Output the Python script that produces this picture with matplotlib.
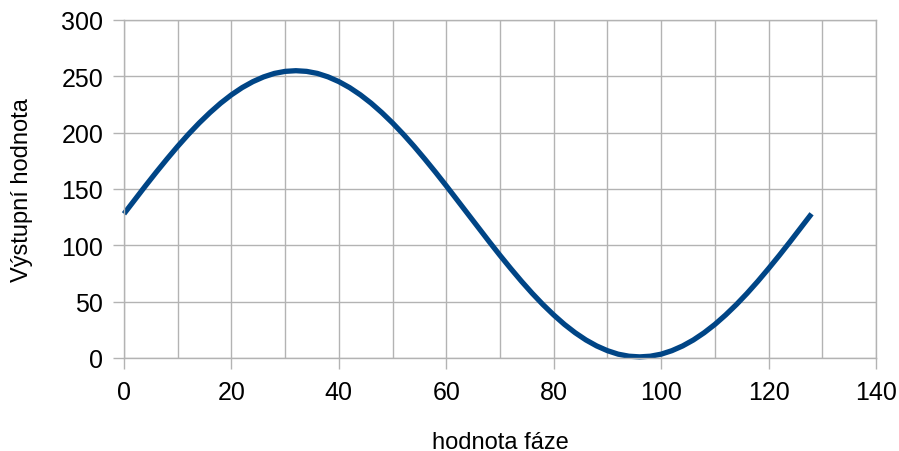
import matplotlib
matplotlib.use("Agg")
import matplotlib.pyplot as plt

# values, every 2 phase steps
phase = list(range(0, 129, 2))
output = [128.0, 140.4, 152.8, 164.9, 176.6, 187.9, 198.6, 208.6, 217.8, 226.2, 233.6, 240.0,
          245.3, 249.5, 252.6, 254.4, 255.0, 254.4, 252.6, 249.5, 245.3, 240.0, 233.6, 226.2,
          217.8, 208.6, 198.6, 187.9, 176.6, 164.9, 152.8, 140.4, 128.0, 115.6, 103.2, 91.1,
          79.4, 68.1, 57.4, 47.4, 38.2, 29.8, 22.4, 16.0, 10.7, 6.5, 3.4, 1.6, 1.0, 1.6, 3.4,
          6.5, 10.7, 16.0, 22.4, 29.8, 38.2, 47.4, 57.4, 68.1, 79.4, 91.1, 103.2, 115.6, 128.0]

x_ticks = [0, 20, 40, 60, 80, 100, 120, 140]
y_ticks = [0, 50, 100, 150, 200, 250, 300]

plt.rcParams['font.family'] = ['Liberation Sans', 'DejaVu Sans']

fig = plt.figure(figsize=(8.99, 4.52), dpi=100)
ax = fig.add_axes([124 / 899, 93 / 452, 752 / 899, 338 / 452])

grid_col = '#b3b3b3'
ax.set_xlim(0, 140)
ax.set_ylim(0, 300)
ax.set_xticks(x_ticks)
ax.set_xticks(range(10, 140, 20), minor=True)
ax.set_yticks(y_ticks)
ax.grid(True, which='both', color=grid_col, linewidth=1)
ax.set_axisbelow(True)

for s in ax.spines.values():
    s.set_color(grid_col)
    s.set_linewidth(1)

ax.tick_params(axis='both', which='major', length=8, width=1, color=grid_col,
               labelsize=18)
ax.tick_params(axis='y', pad=7)
ax.tick_params(axis='x', pad=8)
ax.tick_params(axis='x', which='minor', length=0)

ax.plot(phase, output, color='#004586', linewidth=3.8, solid_capstyle='butt',
        solid_joinstyle='round', clip_on=False)

ax.set_xlabel('hodnota fáze', fontsize=17, labelpad=19)
ax.set_ylabel('Výstupní hodnota', fontsize=17, labelpad=20)

fig.savefig('out.png', dpi=100)
